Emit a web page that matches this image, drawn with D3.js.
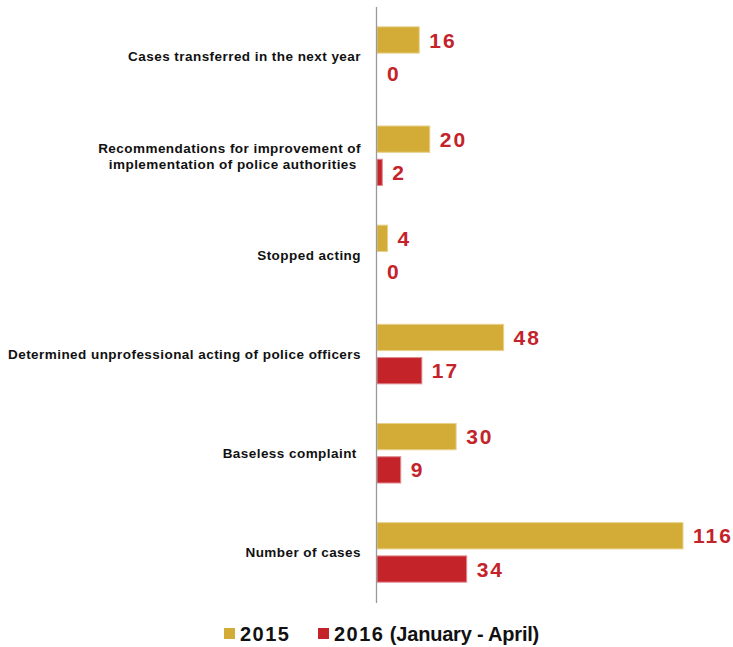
<!DOCTYPE html>
<meta charset="utf-8">
<script src="https://d3js.org/d3.v7.min.js"></script>
<style>
  body { margin: 0; background: #fff; }
  text { font-family: "Liberation Sans", Arial, sans-serif; font-weight: bold; }
</style>
<div id="chart"></div>
<script>
// categories top to bottom
var categories = [
  ["Cases transferred in the next year"],
  ["Recommendations for improvement of", "implementation of police authorities "],
  ["Stopped acting"],
  ["Determined unprofessional acting of police officers"],
  ["Baseless complaint "],
  ["Number of cases"]
];
var series = ["2015", "2016 (January - April)"];
var values2015 = [16, 20, 4, 48, 30, 116];
var values2016 = [0, 2, 0, 17, 9, 34];
var colors = ["#D2AC36", "#C4232A"];

var width = 733, height = 647;
var margin = {top: 7, left: 377, right: 50, bottom: 45};

var svg = d3.select("#chart").append("svg")
  .attr("width", width)
  .attr("height", height);

var x = d3.scaleLinear()
  .domain([0, 116])
  .range([margin.left, 683]);

var y0 = d3.scaleBand()
  .domain(d3.range(categories.length))
  .range([margin.top, height - margin.bottom])
  .paddingInner(0.4)
  .paddingOuter(0.2);

var y1 = d3.scaleBand()
  .domain([0, 1])
  .range([0, y0.bandwidth()])
  .paddingInner(0.21);

var rows = categories.map(function(c, i) {
  return {label: c, vals: [values2015[i], values2016[i]]};
});

var group = svg.selectAll(".grp")
  .data(rows)
  .enter().append("g")
  .attr("transform", function(d, i) { return "translate(0," + y0(i) + ")"; });

group.selectAll("rect")
  .data(function(d) { return d.vals; })
  .enter().append("rect")
  .attr("x", x(0))
  .attr("y", function(d, j) { return y1(j); })
  .attr("width", function(d) { return x(d) - x(0); })
  .attr("height", y1.bandwidth())
  .attr("fill", function(d, j) { return colors[j]; })
  .attr("stroke", function(d, j) { return j == 0 ? "#E8D08A" : "#E08A8E"; })
  .attr("stroke-width", function(d) { return d > 0 ? 1 : 0; });

group.selectAll(".val")
  .data(function(d) { return d.vals; })
  .enter().append("text")
  .attr("x", function(d) { return x(d) + 10; })
  .attr("y", function(d, j) { return y1(j) + y1.bandwidth() / 2; })
  .attr("dy", "0.36em")
  .attr("fill", "#C4232A")
  .style("font-size", "21px")
  .style("letter-spacing", "2px")
  .text(function(d) { return d; });

// category labels
group.append("text")
  .attr("x", 361)
  .attr("y", y0.bandwidth() / 2)
  .attr("text-anchor", "end")
  .style("font-size", "13.5px")
  .style("letter-spacing", "0.45px")
  .style("white-space", "pre")
  .attr("fill", "#111")
  .each(function(d) {
    var t = d3.select(this);
    var n = d.label.length;
    d.label.forEach(function(line, k) {
      t.append("tspan")
        .attr("x", 361)
        .attr("y", y0.bandwidth() / 2 + (k - (n - 1) / 2) * 16)
        .attr("dy", "0.36em")
        .text(line);
    });
  });

// axis line
svg.append("line")
  .attr("x1", x(0) - 0.5).attr("x2", x(0) - 0.5)
  .attr("y1", margin.top).attr("y2", height - margin.bottom + 1)
  .attr("stroke", "#999")
  .attr("stroke-width", 1.3);

// legend
var legX = [224, 318];
var leg = svg.selectAll(".leg")
  .data(series)
  .enter().append("g")
  .attr("transform", function(d, i) { return "translate(" + legX[i] + ",628)"; });
leg.append("rect")
  .attr("width", 11).attr("height", 11)
  .attr("fill", function(d, i) { return colors[i]; });
var legText = leg.append("text")
  .attr("x", 16).attr("y", 6)
  .attr("dy", "0.36em")
  .style("font-size", "20px")
  .attr("fill", "#111");
legText.append("tspan")
  .style("letter-spacing", "1.5px")
  .text(function(d) { return d.split(" ")[0]; });
legText.append("tspan")
  .style("letter-spacing", "-0.2px")
  .style("white-space", "pre")
  .text(function(d) { return d.indexOf(" ") > 0 ? d.slice(d.indexOf(" ")) : ""; });
</script>
